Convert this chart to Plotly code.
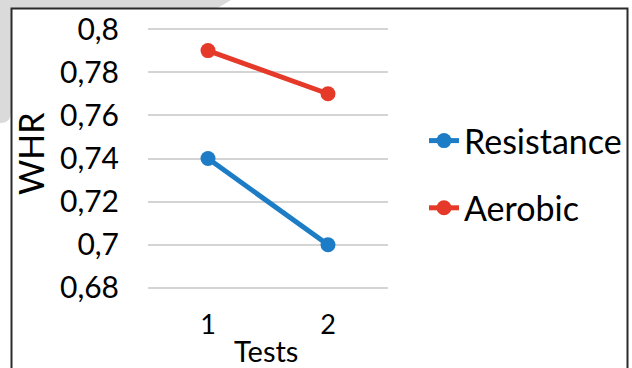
import plotly.graph_objects as go

# WHR by test session for the two training groups
tests = [1, 2]
test_labels = ["1", "2"]
resistance = [0.74, 0.70]
aerobic = [0.79, 0.77]
y_ticks = [0.68, 0.70, 0.72, 0.74, 0.76, 0.78, 0.80]
y_tick_text = ["0,68", "0,7", "0,72", "0,74", "0,76", "0,78", "0,8"]

W, H = 632, 368
L, R, T, B = 148, 244, 18, 70
PW, PH = W - L - R, H - T - B


def px(x):
    """pixel x -> paper x"""
    return (x - L) / PW


def py(y):
    """pixel y (from top) -> paper y"""
    return (H - B - y) / PH


BLUE = "#1C7CC5"
RED = "#E53A29"
FONT = "Lato"

fig = go.Figure()
fig.add_trace(go.Scatter(
    x=tests, y=resistance, name="Resistance", mode="lines+markers",
    line=dict(color=BLUE, width=5), marker=dict(size=15, color=BLUE),
    legendgroup="r",
))
fig.add_trace(go.Scatter(
    x=tests, y=aerobic, name="Aerobic", mode="lines+markers",
    line=dict(color=RED, width=5), marker=dict(size=15, color=RED),
    legendgroup="a",
))

# 258 px span between the 0,68 and 0,8 gridlines; the plot area is a bit taller
per_px = 0.12 / 258
fig.update_yaxes(
    range=[0.68 - 10 * per_px, 0.80 + 11 * per_px],
    tickvals=y_ticks, ticktext=y_tick_text,
    showgrid=True, gridcolor="#D4D4D4", gridwidth=2, zeroline=False,
    showline=False, ticks="outside", ticklen=22, tickcolor="rgba(0,0,0,0)",
    tickfont=dict(family=FONT, size=30, color="#000"),
)
fig.update_xaxes(
    range=[0.5, 2.5], tickvals=tests, ticktext=test_labels,
    showgrid=False, zeroline=False, showline=False,
    ticks="outside", ticklen=3, tickcolor="rgba(0,0,0,0)",
    tickfont=dict(family=FONT, size=27, color="#000"),
)

shapes = [
    # grey backdrop peeking out at the top-left corner
    dict(type="path", xref="paper", yref="paper", layer="below",
         path=(f"M {px(0)},{py(0)} L {px(231)},{py(0)} L {px(216)},{py(9)} "
               f"L {px(11)},{py(9)} L {px(11)},{py(112)} "
               f"Q {px(11)},{py(122)} {px(2)},{py(123)} L {px(0)},{py(123)} Z"),
         fillcolor="#DADADA", line=dict(width=0)),
    # chart frame
    dict(type="rect", xref="paper", yref="paper", layer="below",
         x0=px(11.5), x1=px(627.5), y0=py(8.5), y1=py(380),
         line=dict(color="#2B2B2B", width=2), fillcolor="rgba(0,0,0,0)"),
]

annotations = [
    dict(text="WHR", xref="paper", yref="paper", x=px(30), y=py(154),
         textangle=-90, showarrow=False, xanchor="center", yanchor="middle",
         font=dict(family=FONT, size=34, color="#000")),
    dict(text="Tests", xref="paper", yref="paper", x=px(266), y=py(350),
         showarrow=False, xanchor="center", yanchor="middle",
         font=dict(family=FONT, size=29, color="#000")),
]

fig.update_layout(
    width=W, height=H,
    margin=dict(l=L, r=R, t=T, b=B, autoexpand=False),
    paper_bgcolor="#FFFFFF", plot_bgcolor="#FFFFFF",
    shapes=shapes, annotations=annotations,
    showlegend=True,
    legend=dict(
        x=px(424), y=py(112), xanchor="left", yanchor="top",
        font=dict(family=FONT, size=34, color="#000"),
        traceorder="grouped", tracegroupgap=20, bgcolor="rgba(0,0,0,0)",
    ),
)

fig.write_html("out.html")
